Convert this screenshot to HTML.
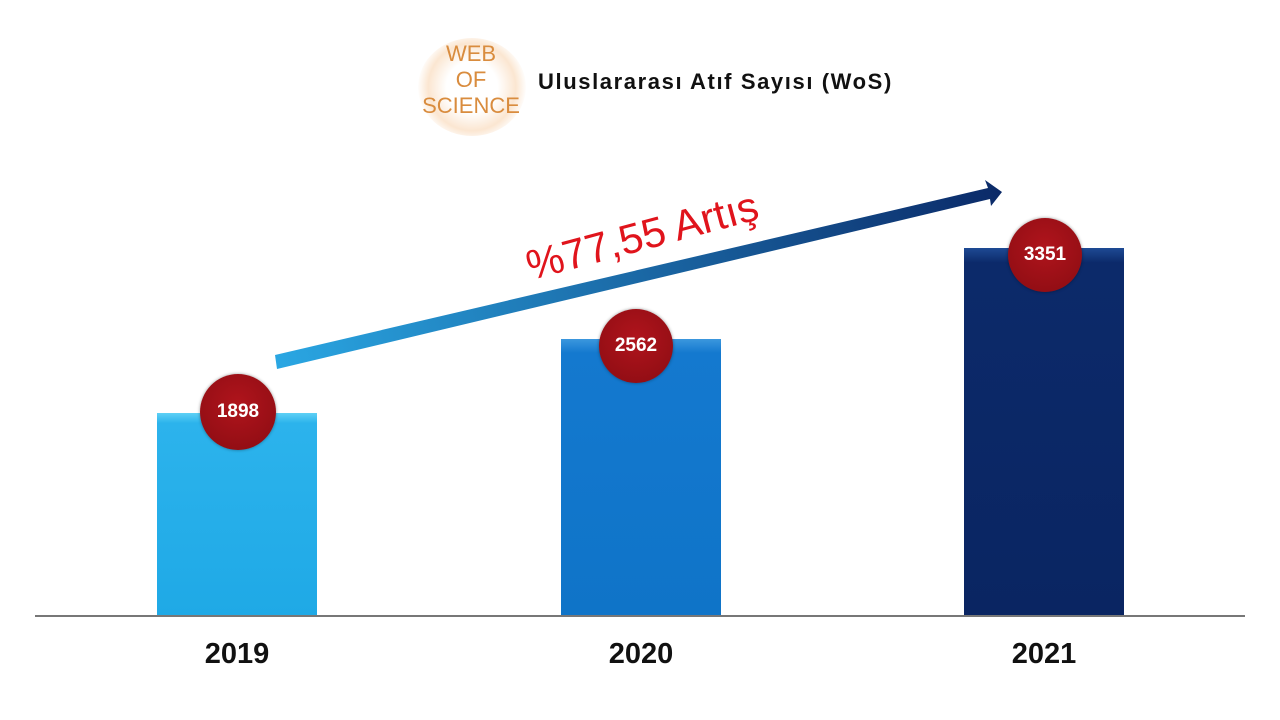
<!DOCTYPE html>
<html><head><meta charset="utf-8"><style>
body{margin:0;width:1280px;height:720px;background:#fff;overflow:hidden;position:relative;font-family:"Liberation Sans",sans-serif}
.bar{position:absolute;bottom:105px;width:160px}
.c{position:absolute;border-radius:50%;background:radial-gradient(circle at 50% 40%,#b0141c,#8a0c12);color:#fff;font-weight:bold;font-size:19px;display:flex;align-items:center;justify-content:center;box-shadow:0 0 3px rgba(0,0,0,.4)}
.y{position:absolute;top:638px;font-weight:bold;font-size:29px;color:#111;width:160px;text-align:center}
.logo{position:absolute;color:#d98c3e;font-size:22px;text-align:center;line-height:26px;width:110px}
</style></head><body>
<div style="position:absolute;left:418px;top:38px;width:108px;height:98px;border-radius:50%;background:radial-gradient(circle,#fff 35%,#fbe6d1 60%,#fff 75%)"></div>
<div class="logo" style="left:416px;top:41px">WEB<br>OF<br>SCIENCE</div>
<div style="position:absolute;left:538px;top:69px;font-weight:bold;font-size:22px;letter-spacing:1.6px;color:#111;white-space:nowrap">Uluslararası Atıf Sayısı (WoS)</div>

<div class="bar" style="left:157px;top:413px;background:linear-gradient(#5fd0f5,#2cb3ec 5%,#1fa9e6)"></div>
<div class="bar" style="left:561px;top:339px;background:linear-gradient(#3b97de,#1479cf 5%,#0f74c8)"></div>
<div class="bar" style="left:964px;top:248px;background:linear-gradient(#1e4a94,#0c2a6a 4%,#0a2562)"></div>
<div style="position:absolute;left:35px;top:615px;width:1210px;height:2px;background:#777"></div>

<svg style="position:absolute;left:0;top:0" width="1280" height="720">
<defs><linearGradient id="g" x1="275" y1="362" x2="1000" y2="193" gradientUnits="userSpaceOnUse"><stop offset="0" stop-color="#2aa7e3"/><stop offset="1" stop-color="#0b2a68"/></linearGradient></defs>
<polygon points="275,355 988,188 985,180 1002,192 991,206 990,199 277,369" fill="url(#g)"/>
<text x="642" y="250" transform="rotate(-15 642 235)" text-anchor="middle" fill="#e0141c" font-family="Liberation Sans" font-size="42">%77,55 Artış</text>
</svg>

<div class="c" style="left:200px;top:374px;width:76px;height:76px">1898</div>
<div class="c" style="left:599px;top:309px;width:74px;height:74px">2562</div>
<div class="c" style="left:1008px;top:218px;width:74px;height:74px">3351</div>

<div class="y" style="left:157px">2019</div>
<div class="y" style="left:561px">2020</div>
<div class="y" style="left:964px">2021</div>
</body></html>
